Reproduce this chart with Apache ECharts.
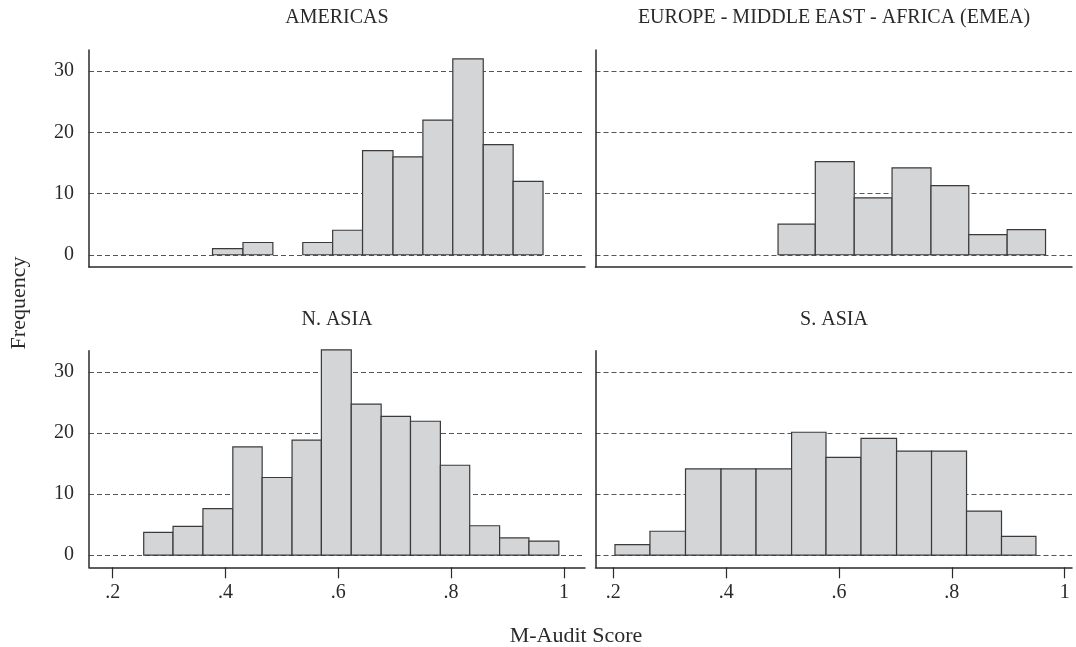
<!DOCTYPE html>
<html><head><meta charset="utf-8">
<script src="https://cdn.jsdelivr.net/npm/echarts@6/dist/echarts.min.js"></script>
<style>html,body{margin:0;padding:0;background:#fff}#c{width:1076px;height:647px}</style>
</head><body><div id="c"></div>
<script>
// ---- data ----
const panelTitles = ['AMERICAS', 'EUROPE - MIDDLE EAST - AFRICA (EMEA)', 'N. ASIA', 'S. ASIA'];
const xAxisTitle = 'M-Audit Score';
const yAxisTitle = 'Frequency';

// bin edges (M-Audit Score) and bar heights (Frequency)
const americasEdges  = [0.377, 0.431, 0.484, 0.537, 0.590, 0.643, 0.697, 0.750, 0.803, 0.857, 0.910, 0.963];
const americasCounts = [1, 2, 0, 2, 4, 17, 16, 22, 32, 18, 12];

const emeaEdges  = [0.492, 0.558, 0.627, 0.694, 0.763, 0.830, 0.898, 0.966];
const emeaCounts = [5, 15.2, 9.3, 14.2, 11.3, 3.3, 4.1];

const nAsiaEdges  = [0.255, 0.307, 0.360, 0.413, 0.465, 0.518, 0.570, 0.623, 0.676, 0.728, 0.781, 0.833, 0.886, 0.938, 0.991];
const nAsiaCounts = [3.7, 4.7, 7.6, 17.7, 12.7, 18.8, 33.6, 24.7, 22.7, 21.9, 14.7, 4.8, 2.8, 2.3];

const sAsiaEdges  = [0.203, 0.265, 0.328, 0.391, 0.453, 0.516, 0.577, 0.639, 0.702, 0.764, 0.826, 0.888, 0.949];
const sAsiaCounts = [1.7, 3.9, 14.1, 14.1, 14.1, 20.1, 16.0, 19.1, 17.0, 17.0, 7.2, 3.05];

const xTickValues = [0.2, 0.4, 0.6, 0.8, 1];
const xTickLabels = ['.2', '.4', '.6', '.8', '1'];
const yTickValues = [0, 10, 20, 30];
const yTickLabels = ['0', '10', '20', '30'];

// ---- chart ----
const FONT = "'Liberation Serif', 'DejaVu Serif', serif";
const INK = '#2a2a2a';
const panels = [
  { edges: americasEdges, counts: americasCounts },
  { edges: emeaEdges, counts: emeaCounts },
  { edges: nAsiaEdges, counts: nAsiaCounts },
  { edges: sAsiaEdges, counts: sAsiaCounts }
];
const gridBoxes = [
  { left: 89,    top: 50,    width: 496,   height: 217 },
  { left: 595.5, top: 50,    width: 476.5, height: 217 },
  { left: 89,    top: 350.7, width: 496,   height: 216.6 },
  { left: 595.5, top: 350.7, width: 476.5, height: 216.6 }
];
const xRanges = [[0.158, 1.0374], [0.1685, 1.0129], [0.158, 1.0374], [0.1685, 1.0129]];
const yRange = [-2.0, 33.45];

function renderBar(params, api) {
  const x0 = api.value(0), x1 = api.value(1), v = api.value(2);
  if (!(v > 0)) return null;
  const p0 = api.coord([x0, v]);
  const p1 = api.coord([x1, 0]);
  return {
    type: 'rect',
    shape: { x: p0[0], y: p0[1], width: p1[0] - p0[0], height: p1[1] - p0[1] },
    style: { fill: '#d4d5d7', stroke: '#3a3a3a', lineWidth: 1.2 }
  };
}

const grid = gridBoxes.map(g => Object.assign({ containLabel: false }, g));
const xAxis = panels.map((p, i) => {
  const bottom = i >= 2;
  return {
    type: 'value', gridIndex: i, min: xRanges[i][0], max: xRanges[i][1],
    axisLine: { show: true, onZero: false, lineStyle: { color: INK, width: 1.5 } },
    axisTick: { show: bottom, customValues: xTickValues, length: 11, lineStyle: { color: INK, width: 1.2 } },
    axisLabel: {
      show: bottom, customValues: xTickValues, margin: 15,
      fontFamily: FONT, fontSize: 20, color: INK,
      formatter: v => { const k = xTickValues.findIndex(t => Math.abs(t - v) < 1e-9); return k >= 0 ? xTickLabels[k] : ''; }
    },
    splitLine: { show: false }
  };
});
const yAxis = panels.map((p, i) => ({
  type: 'value', gridIndex: i, min: yRange[0], max: yRange[1],
  axisLine: { show: true, lineStyle: { color: INK, width: 1.5 } },
  axisTick: { show: false, customValues: yTickValues },
  axisLabel: {
    show: i % 2 === 0, customValues: yTickValues, margin: 15,
    fontFamily: FONT, fontSize: 20, color: INK,
    formatter: v => { const k = yTickValues.indexOf(v); return k >= 0 ? yTickLabels[k] : ''; }
  },
  splitLine: { show: true, lineStyle: { color: '#555', width: 1, type: [5, 3] } }
}));
const series = panels.map((p, i) => ({
  type: 'custom', xAxisIndex: i, yAxisIndex: i,
  renderItem: renderBar,
  encode: { x: [0, 1], y: 2 },
  data: p.counts.map((c, k) => [p.edges[k], p.edges[k + 1], c])
}));

const titleCenters = [[337, 18], [834, 18], [337, 320], [834, 320]];
const graphic = panelTitles.map((t, i) => ({
  type: 'text', x: titleCenters[i][0], y: titleCenters[i][1],
  style: { text: t, font: "20px " + FONT, fill: INK, align: 'center', verticalAlign: 'middle' }
}));
graphic.push({
  type: 'text', x: 576, y: 636,
  style: { text: xAxisTitle, font: "22px " + FONT, fill: INK, align: 'center', verticalAlign: 'middle' }
});
graphic.push({
  type: 'text', x: 19, y: 303, rotation: Math.PI / 2,
  style: { text: yAxisTitle, font: "22px " + FONT, fill: INK, align: 'center', verticalAlign: 'middle' }
});

const chart = echarts.init(document.getElementById('c'), null, { renderer: 'canvas' });
chart.setOption({
  animation: false,
  backgroundColor: '#fff',
  grid, xAxis, yAxis, series, graphic
});
</script>
</body></html>
